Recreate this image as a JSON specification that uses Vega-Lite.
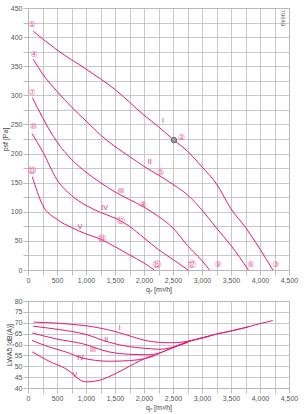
{
  "$schema": "https://vega.github.io/schema/vega-lite/v6.json",
  "background": "white",
  "padding": {"left": 0, "top": 3, "right": 10, "bottom": 2},
  "spacing": 3,
  "config": {
    "view": {"stroke": "#aaa", "strokeWidth": 1},
    "axis": {"labelFont": "Liberation Sans", "labelFontSize": 7, "labelColor": "#555", "titleFont": "Liberation Sans", "titleFontSize": 7, "titleFontWeight": "normal", "titleColor": "#444", "gridColor": "#bbb", "gridWidth": 0.8, "domain": false, "tickColor": "#bbb", "tickSize": 5, "labelPadding": 1, "titlePadding": 2, "labelFlush": false},
    "text": {"font": "Liberation Sans"}
  },
  "datasets": {
    "top": [
      {"c":"I","q":90,"p":410},{"c":"I","q":500,"p":378},{"c":"I","q":1000,"p":345},{"c":"I","q":1500,"p":310},{"c":"I","q":2000,"p":266},{"c":"I","q":2250,"p":246},{"c":"I","q":2517,"p":223},{"c":"I","q":2750,"p":204},{"c":"I","q":3000,"p":177},{"c":"I","q":3250,"p":148},{"c":"I","q":3500,"p":105},{"c":"I","q":3750,"p":73},{"c":"I","q":4000,"p":36},{"c":"I","q":4220,"p":0},
      {"c":"II","q":90,"p":362},{"c":"II","q":250,"p":337},{"c":"II","q":500,"p":307},{"c":"II","q":750,"p":280},{"c":"II","q":1000,"p":256},{"c":"II","q":1250,"p":232},{"c":"II","q":1500,"p":212},{"c":"II","q":1750,"p":195},{"c":"II","q":2000,"p":178},{"c":"II","q":2250,"p":163},{"c":"II","q":2500,"p":147},{"c":"II","q":2750,"p":129},{"c":"II","q":3000,"p":103},{"c":"II","q":3250,"p":72},{"c":"II","q":3500,"p":42},{"c":"II","q":3800,"p":0},
      {"c":"III","q":75,"p":296},{"c":"III","q":250,"p":262},{"c":"III","q":500,"p":220},{"c":"III","q":750,"p":190},{"c":"III","q":1000,"p":168},{"c":"III","q":1250,"p":150},{"c":"III","q":1500,"p":134},{"c":"III","q":1750,"p":121},{"c":"III","q":2000,"p":108},{"c":"III","q":2250,"p":92},{"c":"III","q":2500,"p":72},{"c":"III","q":2750,"p":42},{"c":"III","q":3000,"p":16},{"c":"III","q":3130,"p":0},
      {"c":"IV","q":70,"p":234},{"c":"IV","q":250,"p":204},{"c":"IV","q":500,"p":155},{"c":"IV","q":750,"p":128},{"c":"IV","q":1000,"p":111},{"c":"IV","q":1250,"p":99},{"c":"IV","q":1500,"p":89},{"c":"IV","q":1750,"p":75},{"c":"IV","q":2000,"p":55},{"c":"IV","q":2250,"p":35},{"c":"IV","q":2500,"p":18},{"c":"IV","q":2760,"p":0},
      {"c":"V","q":75,"p":160},{"c":"V","q":250,"p":112},{"c":"V","q":500,"p":87},{"c":"V","q":750,"p":73},{"c":"V","q":1000,"p":62},{"c":"V","q":1250,"p":53},{"c":"V","q":1500,"p":40},{"c":"V","q":1750,"p":26},{"c":"V","q":2000,"p":12},{"c":"V","q":2180,"p":0}
    ],
    "topLabels": [
      {"t":"①","q":69,"p":421},{"t":"④","q":103,"p":370},{"t":"⑦","q":69,"p":304},{"t":"⑩","q":91,"p":246},{"t":"⑬","q":74,"p":170},
      {"t":"②","q":2650,"p":226},{"t":"⑤","q":2288,"p":167},{"t":"⑧","q":1983,"p":112},{"t":"⑪","q":1603,"p":85},{"t":"⑭","q":1281,"p":53},
      {"t":"③","q":4271,"p":8},{"t":"⑥","q":3840,"p":8},{"t":"⑨","q":3276,"p":8},{"t":"⑫","q":2822,"p":8},{"t":"⑮","q":2224,"p":8}
    ],
    "topRoman": [
      {"t":"I","q":2328,"p":256},{"t":"II","q":2098,"p":185},{"t":"III","q":1603,"p":136},{"t":"IV","q":1322,"p":107},{"t":"V","q":897,"p":73}
    ],
    "bands": [{"q":250},{"q":1250},{"q":2250},{"q":3250},{"q":4250}],
    "bottom": [
      {"c":"I","q":100,"L":70.3},{"c":"I","q":500,"L":69.8},{"c":"I","q":1000,"L":68.6},{"c":"I","q":1250,"L":67.5},{"c":"I","q":1500,"L":66},{"c":"I","q":1750,"L":64},{"c":"I","q":2000,"L":62},{"c":"I","q":2250,"L":61},{"c":"I","q":2500,"L":60.8},{"c":"I","q":2750,"L":61.5},{"c":"I","q":3000,"L":63},{"c":"I","q":3250,"L":64.8},{"c":"I","q":3500,"L":66.2},{"c":"I","q":3750,"L":67.8},{"c":"I","q":4000,"L":69.6},{"c":"I","q":4220,"L":71},
      {"c":"II","q":90,"L":68.4},{"c":"II","q":500,"L":67},{"c":"II","q":1000,"L":64.6},{"c":"II","q":1400,"L":61},{"c":"II","q":1750,"L":59},{"c":"II","q":2086,"L":58.1},{"c":"II","q":2250,"L":57.8},{"c":"II","q":2500,"L":58.8},{"c":"II","q":2750,"L":61.3},{"c":"II","q":3000,"L":63},{"c":"II","q":3250,"L":64.8},{"c":"II","q":3500,"L":66.2},{"c":"II","q":3800,"L":68.1},
      {"c":"III","q":75,"L":65.3},{"c":"III","q":500,"L":62.5},{"c":"III","q":936,"L":60.4},{"c":"III","q":1397,"L":56.6},{"c":"III","q":1750,"L":55.5},{"c":"III","q":2086,"L":55.3},{"c":"III","q":2250,"L":56},{"c":"III","q":2500,"L":58.6},{"c":"III","q":2750,"L":61.2},{"c":"III","q":3000,"L":63},{"c":"III","q":3130,"L":63.8},
      {"c":"IV","q":70,"L":61.9},{"c":"IV","q":350,"L":59},{"c":"IV","q":650,"L":56.6},{"c":"IV","q":936,"L":53.8},{"c":"IV","q":1397,"L":52.3},{"c":"IV","q":1750,"L":52.6},{"c":"IV","q":2086,"L":54},{"c":"IV","q":2400,"L":57.5},{"c":"IV","q":2760,"L":61},
      {"c":"V","q":75,"L":56.6},{"c":"V","q":350,"L":52.5},{"c":"V","q":650,"L":48.9},{"c":"V","q":995,"L":42.8},{"c":"V","q":1224,"L":43.5},{"c":"V","q":1500,"L":46.5},{"c":"V","q":1750,"L":50},{"c":"V","q":2086,"L":54.3},{"c":"V","q":2180,"L":55}
    ],
    "bottomRoman": [
      {"t":"I","q":1580,"L":67.6},{"t":"II","q":1350,"L":62.2},{"t":"III","q":1121,"L":57.6},{"t":"IV","q":908,"L":53.8},{"t":"V","q":810,"L":45.8}
    ],
    "mark": [{"q":2517,"p":223}],
    "code": [{"t":"79649","q":4400,"p":433}]
  },
  "vconcat": [
    {
      "width": 261,
      "height": 262,
      "encoding": {
        "x": {"field": "q", "type": "quantitative", "scale": {"domain": [0, 4500], "nice": false},
          "axis": {"values": [0,250,500,750,1000,1250,1500,1750,2000,2250,2500,2750,3000,3250,3500,3750,4000,4250,4500], "labelOverlap": false, "labelExpr": "datum.value % 500 === 0 ? format(datum.value, ',') : ''", "title": "qᵥ [m³/h]"}},
        "y": {"field": "p", "type": "quantitative", "scale": {"domain": [0, 450], "nice": false},
          "axis": {"values": [0,25,50,75,100,125,150,175,200,225,250,275,300,325,350,375,400,425,450], "labelOverlap": false, "labelExpr": "datum.value % 50 === 0 ? '' + datum.value : ''", "title": "psf [Pa]"}}
      },
      "layer": [
        {
          "data": {"name": "bands"},
          "mark": {"type": "rule", "color": "#e3e3e3", "strokeWidth": 2.2},
          "encoding": {"y": {"datum": 0, "type": "quantitative"}, "y2": {"datum": 450}}
        },
        {
          "data": {"name": "top"},
          "mark": {"type": "line", "interpolate": "monotone", "color": "#e5197e", "strokeWidth": 1},
          "encoding": {"detail": {"field": "c"}}
        },
        {
          "data": {"name": "mark"},
          "mark": {"type": "point", "filled": true, "color": "#999", "stroke": "#555", "strokeWidth": 0.8, "size": 30, "opacity": 1},
          "encoding": {}
        },
        {
          "data": {"name": "topLabels"},
          "mark": {"type": "text", "color": "#ee5aa0", "fontSize": 8, "font": "DejaVu Sans"},
          "encoding": {"text": {"field": "t"}}
        },
        {
          "data": {"name": "topRoman"},
          "mark": {"type": "text", "color": "#e5197e", "fontSize": 7},
          "encoding": {"text": {"field": "t"}}
        },
        {
          "data": {"name": "code"},
          "mark": {"type": "text", "color": "#666", "fontSize": 6, "angle": 90},
          "encoding": {"text": {"field": "t"}}
        }
      ]
    },
    {
      "width": 261,
      "height": 87,
      "encoding": {
        "x": {"field": "q", "type": "quantitative", "scale": {"domain": [0, 4500], "nice": false},
          "axis": {"values": [0,250,500,750,1000,1250,1500,1750,2000,2250,2500,2750,3000,3250,3500,3750,4000,4250,4500], "labelOverlap": false, "labelExpr": "datum.value % 500 === 0 ? format(datum.value, ',') : ''", "title": "qᵥ [m³/h]"}},
        "y": {"field": "L", "type": "quantitative", "scale": {"domain": [40, 80], "nice": false},
          "axis": {"values": [40,45,50,55,60,65,70,75,80], "labelOverlap": false, "title": "LWA5 [dB(A)]"}}
      },
      "layer": [
        {
          "data": {"name": "bands"},
          "mark": {"type": "rule", "color": "#e3e3e3", "strokeWidth": 2.2},
          "encoding": {"y": {"datum": 40, "type": "quantitative"}, "y2": {"datum": 80}}
        },
        {
          "data": {"name": "bottom"},
          "mark": {"type": "line", "interpolate": "monotone", "color": "#e5197e", "strokeWidth": 1},
          "encoding": {"detail": {"field": "c"}}
        },
        {
          "data": {"name": "bottomRoman"},
          "mark": {"type": "text", "color": "#e5197e", "fontSize": 7},
          "encoding": {"text": {"field": "t"}}
        }
      ]
    }
  ]
}
